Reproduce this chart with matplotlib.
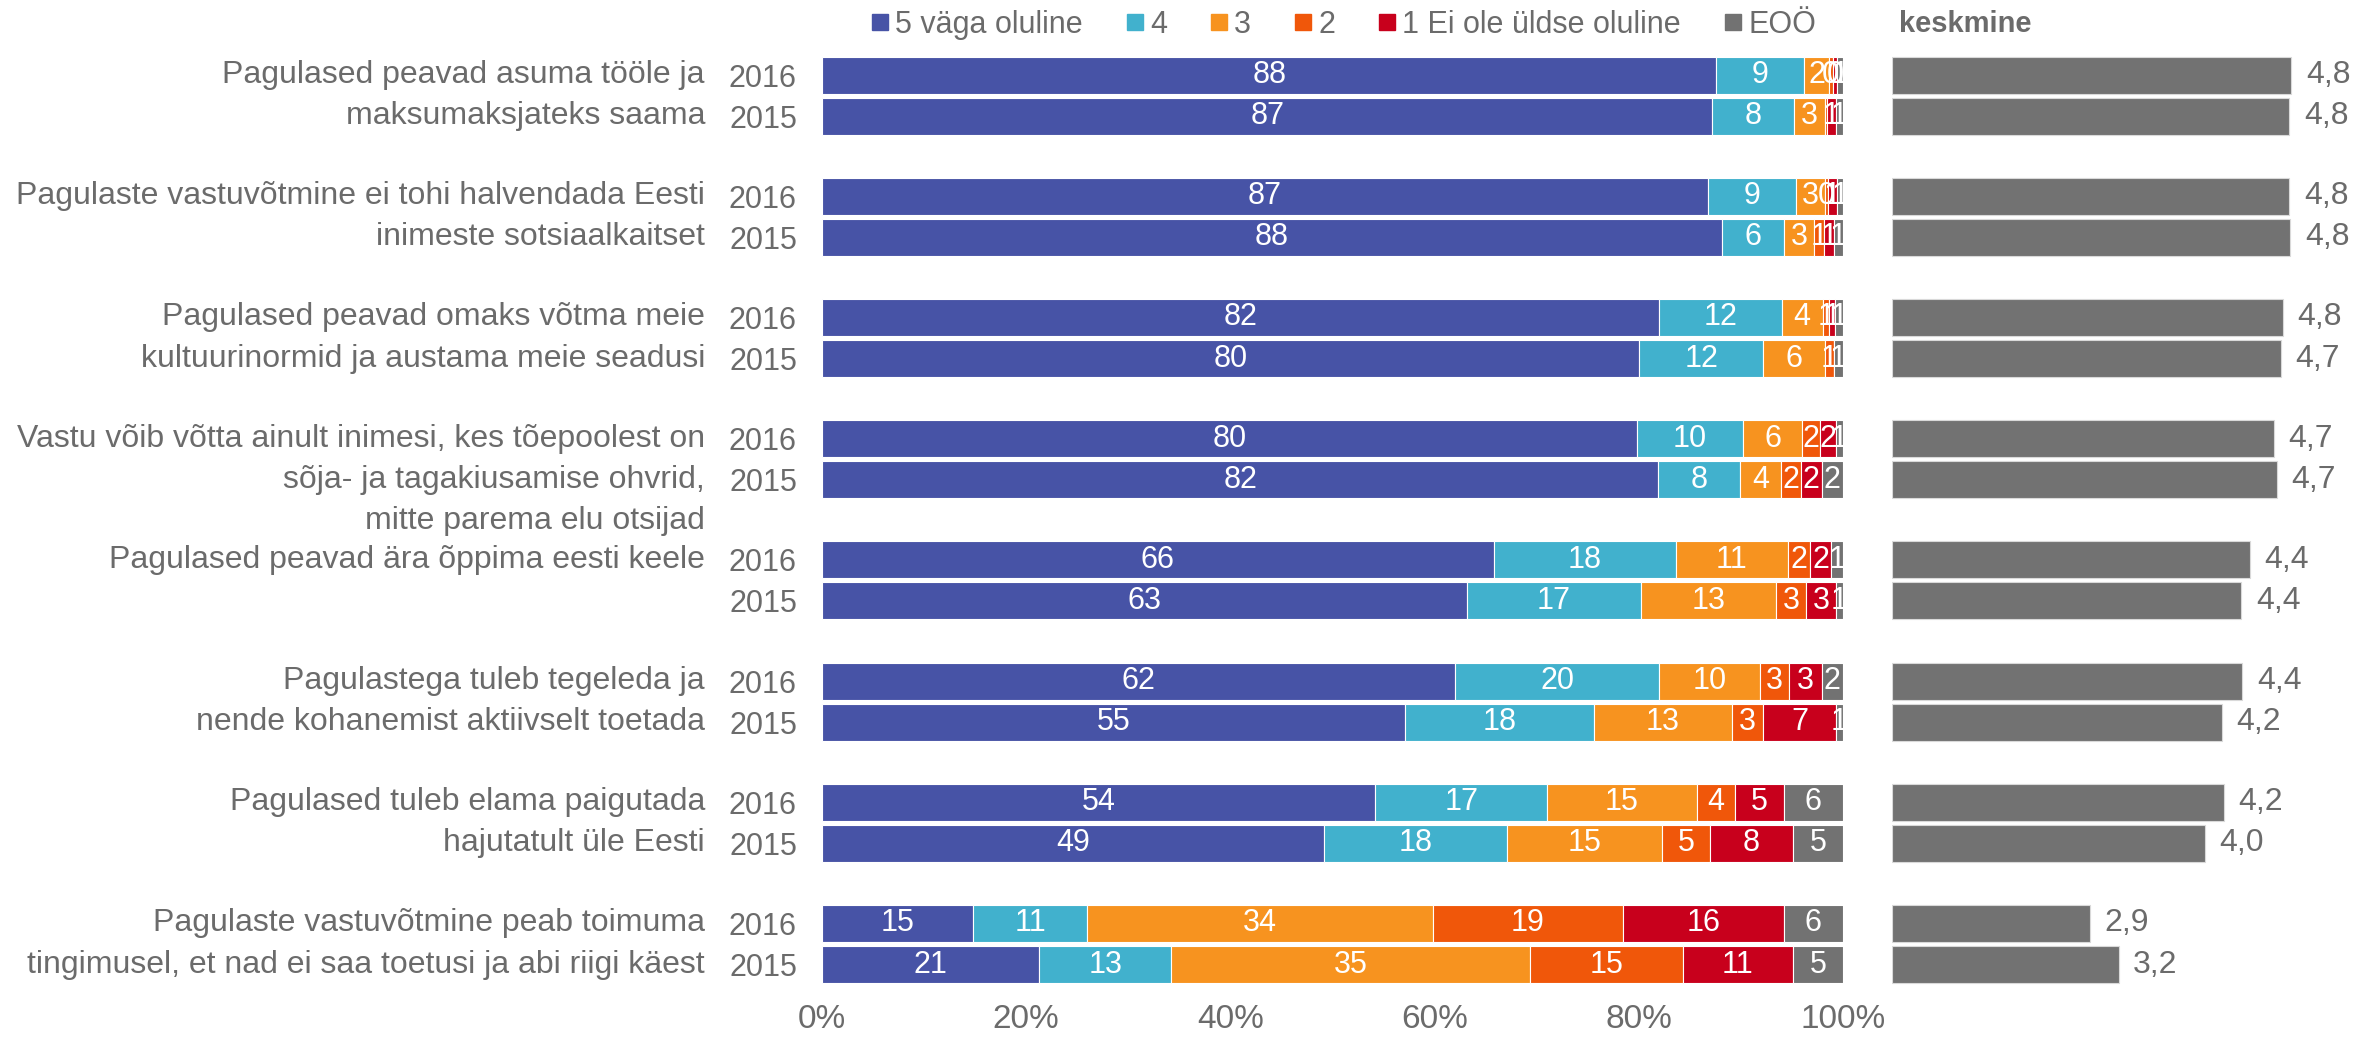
import matplotlib
matplotlib.use('Agg')
import matplotlib.pyplot as plt
from matplotlib import font_manager
from matplotlib.lines import Line2D
import matplotlib.transforms as mtransforms

# valime kitsa kirjatüübi, kui see on olemas
def pick_font(names):
    for n in names:
        try:
            font_manager.findfont(n, fallback_to_default=False)
            return n
        except Exception:
            pass
    return 'DejaVu Sans'

NARROW = pick_font(['Liberation Sans Narrow', 'Liberation Sans', 'Arial'])
REGULAR = pick_font(['Liberation Sans', 'Arial'])

# ---- andmed ----
statements = [
    "Pagulased peavad asuma tööle ja\nmaksumaksjateks saama",
    "Pagulaste vastuvõtmine ei tohi halvendada Eesti\ninimeste sotsiaalkaitset",
    "Pagulased peavad omaks võtma meie\nkultuurinormid ja austama meie seadusi",
    "Vastu võib võtta ainult inimesi, kes tõepoolest on\nsõja- ja tagakiusamise ohvrid,\nmitte parema elu otsijad",
    "Pagulased peavad ära õppima eesti keele",
    "Pagulastega tuleb tegeleda ja\nnende kohanemist aktiivselt toetada",
    "Pagulased tuleb elama paigutada\nhajutatult üle Eesti",
    "Pagulaste vastuvõtmine peab toimuma\ntingimusel, et nad ei saa toetusi ja abi riigi käest",
]
years = ['2016', '2015']
series_names = ['5 väga oluline', '4', '3', '2', '1 Ei ole üldse oluline', 'EOÖ']

# ribade laiused (%), järjekord: väide1 2016, väide1 2015, väide2 2016, ...
v5 = [87.6, 87.2, 86.8, 88.1, 82.0, 80.0, 79.8, 81.9, 65.8, 63.2, 62.0, 57.1, 54.2, 49.2, 14.8, 21.3]
v4 = [8.6, 8.0, 8.6, 6.1, 12.0, 12.2, 10.4, 8.0, 17.8, 17.0, 20.0, 18.5, 16.8, 17.9, 11.2, 12.9]
v3 = [2.4, 3.0, 2.8, 3.0, 4.0, 6.0, 5.8, 4.0, 11.0, 13.2, 9.9, 13.5, 14.7, 15.2, 33.8, 35.1]
v2 = [0.4, 0.2, 0.3, 0.9, 0.6, 0.9, 1.7, 2.0, 2.2, 3.0, 2.8, 3.1, 3.7, 4.7, 18.7, 15.0]
v1 = [0.4, 0.9, 0.9, 1.0, 0.6, 0.0, 1.6, 2.0, 2.0, 2.9, 3.2, 7.1, 4.8, 8.1, 15.7, 10.8]
veoo = [0.6, 0.7, 0.6, 0.9, 0.8, 0.9, 0.7, 2.1, 1.2, 0.7, 2.1, 0.7, 5.8, 4.9, 5.8, 4.9]

# sildid nagu joonisel (None = silti pole)
lab5 = [88, 87, 87, 88, 82, 80, 80, 82, 66, 63, 62, 55, 54, 49, 15, 21]
lab4 = [9, 8, 9, 6, 12, 12, 10, 8, 18, 17, 20, 18, 17, 18, 11, 13]
lab3 = [2, 3, 3, 3, 4, 6, 6, 4, 11, 13, 10, 13, 15, 15, 34, 35]
lab2 = [0, None, 0, 1, 1, 1, 2, 2, 2, 3, 3, 3, 4, 5, 19, 15]
lab1 = [0, 1, 1, 1, 1, None, 2, 2, 2, 3, 3, 7, 5, 8, 16, 11]
labeoo = [1, 1, 1, 1, 1, 1, 1, 2, 1, 1, 2, 1, 6, 5, 6, 5]

means = [4.84, 4.82, 4.82, 4.83, 4.76, 4.74, 4.67, 4.70, 4.44, 4.36, 4.37, 4.17, 4.19, 4.01, 2.90, 3.18]

colors = ['#4753A6', '#41B1CD', '#F7931F', '#F0570A', '#C8001C', '#727272']
TEXT = '#6B6B6B'

values = [v5, v4, v3, v2, v1, veoo]
labels = [lab5, lab4, lab3, lab2, lab1, labeoo]

# ---- paigutus ----
W, H = 2354, 1037
fig = plt.figure(figsize=(W / 100, H / 100), dpi=100)

GROUP = 2.95
ypos = []
for g in range(len(statements)):
    ypos.append(g * GROUP)
    ypos.append(g * GROUP + 1)

top_px, bot_px = 50, 990
ax = fig.add_axes([822 / W, 1 - bot_px / H, 1021 / W, (bot_px - top_px) / H])
ax2 = fig.add_axes([1892 / W, 1 - bot_px / H, 416 / W, (bot_px - top_px) / H])

ylim = (ypos[-1] + 0.62, -0.61)

left = [0.0] * len(ypos)
for vals, labs, col, name in zip(values, labels, colors, series_names):
    ax.barh(ypos, vals, left=left, height=0.9, color=col, edgecolor='white',
            linewidth=0.8, label=name)
    for i in range(len(ypos)):
        if labs[i] is not None:
            ax.text(left[i] + vals[i] / 2, ypos[i], str(labs[i]), ha='center', va='center',
                    color='white', fontsize=22, family=NARROW)
        left[i] += vals[i]

ax.set_xlim(0, 100)
ax.set_ylim(*ylim)
ax.set_xticks(range(0, 101, 20))
ax.set_xticklabels([f'{t}%' for t in range(0, 101, 20)], family=NARROW, fontsize=24, color=TEXT)
ax.set_yticks(ypos)
ax.set_yticklabels(years * len(statements), family=NARROW, fontsize=22, color=TEXT)
ax.tick_params(length=0)
ax.tick_params(axis='y', pad=18)
ax.tick_params(axis='x', pad=10)
for s in ax.spines.values():
    s.set_visible(False)

# väidete tekstid, iga rida eraldi 2016 riba kõrgusel alates
trans = mtransforms.blended_transform_factory(fig.transFigure, ax.transData)
for g, st in enumerate(statements):
    for k, line in enumerate(st.split('\n')):
        ax.text(705 / W, ypos[2 * g] + k, line, transform=trans, ha='right', va='center',
                fontsize=23, family=NARROW, color=TEXT)

# keskmised
ax2.barh(ypos, [m - 1 for m in means], left=1, height=0.9, color=colors[5],
         edgecolor='#d9d9d9', linewidth=0.8)
for y, m in zip(ypos, means):
    ax2.text(m + 0.14, y, f'{m:.1f}'.replace('.', ','), ha='left', va='center',
             fontsize=23, family=REGULAR, color=TEXT)
ax2.set_xlim(1, 5)
ax2.set_ylim(*ylim)
ax2.axis('off')
fig.text(1899 / W, 1 - 24 / H, 'keskmine', ha='left', va='center', fontsize=21,
         family=REGULAR, fontweight='bold', color=TEXT)

# legend
handles = [Line2D([], [], linestyle='none', marker='s', markersize=11.5, color=c) for c in colors]
fig.legend(handles, series_names, loc='center', bbox_to_anchor=(0.570, 1 - 25 / H), ncol=6,
           frameon=False, prop={'family': NARROW, 'size': 22}, labelcolor=TEXT,
           handletextpad=0.1, columnspacing=1.3, handlelength=0.8)

fig.savefig('out.png', dpi=100)
